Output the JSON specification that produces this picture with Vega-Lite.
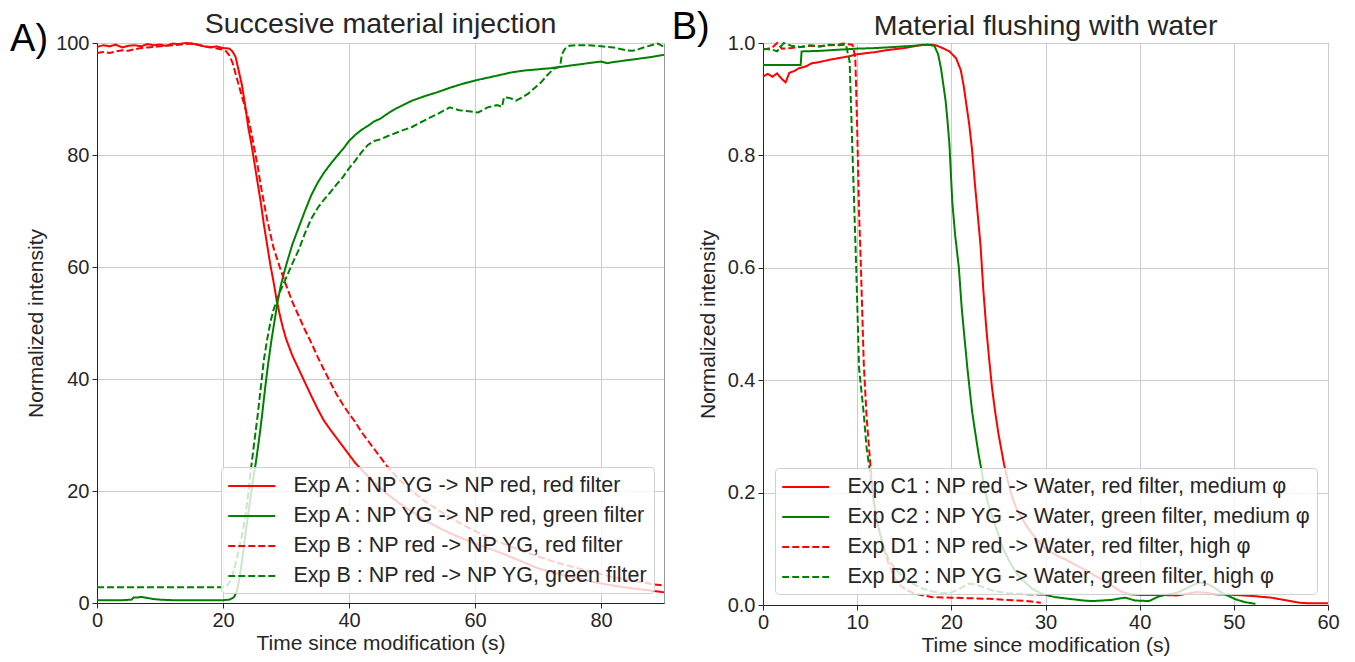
{
  "$schema": "https://vega.github.io/schema/vega-lite/v6.json",
  "background": "white",
  "padding": {"left": 9, "top": 8, "right": 5, "bottom": 0},
  "bounds": "flush",
  "spacing": 99,
  "resolve": {"scale": {"color": "independent", "strokeDash": "independent", "x": "independent", "y": "independent"}, "legend": {"color": "independent", "strokeDash": "independent"}},
  "config": {
    "font": "Liberation Sans",
    "view": {"stroke": "#999999", "strokeWidth": 1},
    "axis": {
      "labelFontSize": 20, "titleFontSize": 21, "titleFontWeight": "normal",
      "labelColor": "#262626", "titleColor": "#262626",
      "gridColor": "#cccccc", "gridWidth": 1,
      "domainColor": "#262626", "tickColor": "#262626", "tickSize": 5,
      "labelPadding": 3, "titlePadding": 4, "labelFlush": false, "labelOverlap": false
    },
    "axisX": {"labelPadding": 2, "titlePadding": 2},
    "axisY": {"titlePadding": 9},
    "legend": {
      "labelFontSize": 21.5, "labelColor": "#262626", "labelLimit": 1000,
      "symbolType": "M-1,0H3", "symbolSize": 552.25, "symbolStrokeWidth": 2,
      "labelOffset": 40.5, "padding": 6, "rowPadding": 6,
      "strokeColor": "#d0d0d0", "fillColor": "rgba(255,255,255,0.8)", "cornerRadius": 4
    }
  },
  "hconcat": [
    {
      "width": 567, "height": 560,
      "layer": [
        {
          "data": {"values": [
            {"k":"A1","t":0,"v":99.3},{"k":"A1","t":1,"v":99.6},{"k":"A1","t":2,"v":99.4},{"k":"A1","t":3,"v":99.7},{"k":"A1","t":4,"v":99.2},{"k":"A1","t":5,"v":99.5},{"k":"A1","t":6,"v":99.6},{"k":"A1","t":7,"v":99.4},{"k":"A1","t":8,"v":99.8},{"k":"A1","t":9,"v":99.6},{"k":"A1","t":10,"v":99.7},{"k":"A1","t":11,"v":99.5},{"k":"A1","t":12,"v":99.9},{"k":"A1","t":13,"v":99.8},{"k":"A1","t":14,"v":100},{"k":"A1","t":15,"v":99.9},{"k":"A1","t":16,"v":99.7},{"k":"A1","t":17,"v":99.4},{"k":"A1","t":18,"v":99.2},{"k":"A1","t":19,"v":99.4},{"k":"A1","t":20,"v":99.1},{"k":"A1","t":21,"v":99},{"k":"A1","t":21.5,"v":98.5},{"k":"A1","t":22,"v":97.5},{"k":"A1","t":22.5,"v":95},{"k":"A1","t":23,"v":92.5},{"k":"A1","t":23.5,"v":89},{"k":"A1","t":24,"v":85},{"k":"A1","t":24.5,"v":82},{"k":"A1","t":25,"v":78.5},{"k":"A1","t":25.5,"v":75},{"k":"A1","t":26,"v":71.5},{"k":"A1","t":26.5,"v":67.5},{"k":"A1","t":27,"v":64},{"k":"A1","t":27.5,"v":60.5},{"k":"A1","t":28,"v":57.5},{"k":"A1","t":28.5,"v":54.2},{"k":"A1","t":29,"v":51.5},{"k":"A1","t":29.5,"v":49.2},{"k":"A1","t":30,"v":47.2},{"k":"A1","t":31,"v":44.2},{"k":"A1","t":32,"v":41.8},{"k":"A1","t":33,"v":39.4},{"k":"A1","t":34,"v":37},{"k":"A1","t":35,"v":34.7},{"k":"A1","t":36,"v":32.6},{"k":"A1","t":37,"v":31},{"k":"A1","t":38,"v":29.5},{"k":"A1","t":39,"v":28},{"k":"A1","t":40,"v":26.5},{"k":"A1","t":41,"v":25},{"k":"A1","t":42,"v":23.8},{"k":"A1","t":44,"v":21.5},{"k":"A1","t":46,"v":19.5},{"k":"A1","t":48,"v":17.8},{"k":"A1","t":50,"v":16.3},{"k":"A1","t":52,"v":14.8},{"k":"A1","t":55,"v":13},{"k":"A1","t":58,"v":11.5},{"k":"A1","t":61,"v":10.2},{"k":"A1","t":64,"v":9},{"k":"A1","t":67,"v":7.6},{"k":"A1","t":70,"v":6.2},{"k":"A1","t":73,"v":5.2},{"k":"A1","t":76,"v":4.4},{"k":"A1","t":79,"v":3.7},{"k":"A1","t":82,"v":3.1},{"k":"A1","t":85,"v":2.6},{"k":"A1","t":88,"v":2.2},{"k":"A1","t":90,"v":1.9},
            {"k":"A2","t":0,"v":0.5},{"k":"A2","t":2,"v":0.5},{"k":"A2","t":4,"v":0.5},{"k":"A2","t":5.5,"v":0.6},{"k":"A2","t":5.8,"v":1.0},{"k":"A2","t":6.5,"v":1.0},{"k":"A2","t":7,"v":1.1},{"k":"A2","t":7.5,"v":1.0},{"k":"A2","t":8,"v":0.9},{"k":"A2","t":9,"v":0.7},{"k":"A2","t":10,"v":0.6},{"k":"A2","t":12,"v":0.5},{"k":"A2","t":15,"v":0.5},{"k":"A2","t":18,"v":0.5},{"k":"A2","t":20,"v":0.5},{"k":"A2","t":21,"v":0.6},{"k":"A2","t":21.7,"v":1.0},{"k":"A2","t":22.2,"v":2},{"k":"A2","t":22.7,"v":5},{"k":"A2","t":23.2,"v":9},{"k":"A2","t":23.7,"v":13.5},{"k":"A2","t":24.2,"v":17.5},{"k":"A2","t":24.7,"v":21.5},{"k":"A2","t":25.2,"v":25},{"k":"A2","t":25.7,"v":29},{"k":"A2","t":26.2,"v":33.5},{"k":"A2","t":26.7,"v":38.5},{"k":"A2","t":27.2,"v":43},{"k":"A2","t":27.7,"v":47},{"k":"A2","t":28.2,"v":50.5},{"k":"A2","t":28.7,"v":54},{"k":"A2","t":29.2,"v":56.8},{"k":"A2","t":29.7,"v":59},{"k":"A2","t":30.2,"v":61},{"k":"A2","t":31,"v":64},{"k":"A2","t":32,"v":67},{"k":"A2","t":33,"v":70},{"k":"A2","t":34,"v":72.8},{"k":"A2","t":35,"v":75},{"k":"A2","t":36,"v":76.8},{"k":"A2","t":37,"v":78.3},{"k":"A2","t":38,"v":79.7},{"k":"A2","t":39,"v":81},{"k":"A2","t":40,"v":82.5},{"k":"A2","t":41,"v":83.6},{"k":"A2","t":42,"v":84.5},{"k":"A2","t":43,"v":85.2},{"k":"A2","t":44,"v":86},{"k":"A2","t":45,"v":86.5},{"k":"A2","t":46,"v":87.3},{"k":"A2","t":47,"v":88},{"k":"A2","t":48,"v":88.6},{"k":"A2","t":50,"v":89.7},{"k":"A2","t":52,"v":90.5},{"k":"A2","t":54,"v":91.2},{"k":"A2","t":56,"v":92},{"k":"A2","t":58,"v":92.7},{"k":"A2","t":60,"v":93.3},{"k":"A2","t":62,"v":93.8},{"k":"A2","t":64,"v":94.3},{"k":"A2","t":66,"v":94.8},{"k":"A2","t":68,"v":95.1},{"k":"A2","t":70,"v":95.3},{"k":"A2","t":72,"v":95.5},{"k":"A2","t":74,"v":95.8},{"k":"A2","t":76,"v":96.1},{"k":"A2","t":78,"v":96.4},{"k":"A2","t":80,"v":96.7},{"k":"A2","t":81,"v":96.4},{"k":"A2","t":82,"v":96.6},{"k":"A2","t":84,"v":96.9},{"k":"A2","t":86,"v":97.2},{"k":"A2","t":88,"v":97.5},{"k":"A2","t":90,"v":97.9},
            {"k":"A3","t":0,"v":98.2},{"k":"A3","t":1,"v":98.4},{"k":"A3","t":2,"v":98.2},{"k":"A3","t":3,"v":98.5},{"k":"A3","t":4,"v":98.7},{"k":"A3","t":5,"v":98.6},{"k":"A3","t":6,"v":98.9},{"k":"A3","t":7,"v":99.1},{"k":"A3","t":8,"v":99.2},{"k":"A3","t":9,"v":99.3},{"k":"A3","t":10,"v":99.4},{"k":"A3","t":11,"v":99.5},{"k":"A3","t":12,"v":99.6},{"k":"A3","t":13,"v":99.7},{"k":"A3","t":14,"v":99.8},{"k":"A3","t":15,"v":99.9},{"k":"A3","t":16,"v":99.7},{"k":"A3","t":17,"v":99.4},{"k":"A3","t":18,"v":99.3},{"k":"A3","t":19,"v":99},{"k":"A3","t":20,"v":98.8},{"k":"A3","t":20.5,"v":98.5},{"k":"A3","t":21,"v":97.8},{"k":"A3","t":21.5,"v":96.5},{"k":"A3","t":22,"v":94.5},{"k":"A3","t":22.5,"v":92.5},{"k":"A3","t":23,"v":90.5},{"k":"A3","t":23.5,"v":88.5},{"k":"A3","t":24,"v":86.5},{"k":"A3","t":24.5,"v":84},{"k":"A3","t":25,"v":81},{"k":"A3","t":25.5,"v":78},{"k":"A3","t":26,"v":74.5},{"k":"A3","t":26.5,"v":71.5},{"k":"A3","t":27,"v":68.5},{"k":"A3","t":27.5,"v":66},{"k":"A3","t":28,"v":63.5},{"k":"A3","t":29,"v":60},{"k":"A3","t":30,"v":56.8},{"k":"A3","t":31,"v":53.8},{"k":"A3","t":32,"v":51.3},{"k":"A3","t":33,"v":48.8},{"k":"A3","t":34,"v":46.5},{"k":"A3","t":35,"v":44},{"k":"A3","t":36,"v":41.7},{"k":"A3","t":37,"v":39.5},{"k":"A3","t":38,"v":37.3},{"k":"A3","t":39,"v":35.5},{"k":"A3","t":40,"v":33.8},{"k":"A3","t":41,"v":32.3},{"k":"A3","t":42,"v":30.5},{"k":"A3","t":43,"v":29},{"k":"A3","t":44,"v":27.5},{"k":"A3","t":45,"v":26},{"k":"A3","t":46,"v":24.5},{"k":"A3","t":48,"v":22},{"k":"A3","t":50,"v":20},{"k":"A3","t":52,"v":18.2},{"k":"A3","t":55,"v":16},{"k":"A3","t":58,"v":14},{"k":"A3","t":61,"v":12.3},{"k":"A3","t":64,"v":10.8},{"k":"A3","t":67,"v":9.5},{"k":"A3","t":70,"v":8.3},{"k":"A3","t":73,"v":7.2},{"k":"A3","t":76,"v":6.3},{"k":"A3","t":79,"v":5.4},{"k":"A3","t":82,"v":4.6},{"k":"A3","t":85,"v":4},{"k":"A3","t":88,"v":3.4},{"k":"A3","t":90,"v":3.1},
            {"k":"A4","t":0,"v":2.8},{"k":"A4","t":10,"v":2.8},{"k":"A4","t":20,"v":2.8},{"k":"A4","t":20.5,"v":2.9},{"k":"A4","t":21,"v":3.6},{"k":"A4","t":21.5,"v":5},{"k":"A4","t":22,"v":7},{"k":"A4","t":22.5,"v":9.5},{"k":"A4","t":23,"v":12},{"k":"A4","t":23.5,"v":15},{"k":"A4","t":24,"v":19.5},{"k":"A4","t":24.5,"v":24.5},{"k":"A4","t":25,"v":29},{"k":"A4","t":25.5,"v":33.5},{"k":"A4","t":26,"v":38.5},{"k":"A4","t":26.5,"v":43.5},{"k":"A4","t":27,"v":47},{"k":"A4","t":27.5,"v":50},{"k":"A4","t":28,"v":52.3},{"k":"A4","t":29,"v":55.5},{"k":"A4","t":30,"v":58},{"k":"A4","t":31,"v":60.6},{"k":"A4","t":32,"v":63},{"k":"A4","t":33,"v":66},{"k":"A4","t":34,"v":68.6},{"k":"A4","t":35,"v":70.5},{"k":"A4","t":36,"v":72},{"k":"A4","t":37,"v":73.3},{"k":"A4","t":38,"v":74.7},{"k":"A4","t":39,"v":76},{"k":"A4","t":40,"v":77.6},{"k":"A4","t":41,"v":79},{"k":"A4","t":42,"v":80.5},{"k":"A4","t":43,"v":81.8},{"k":"A4","t":44,"v":82.5},{"k":"A4","t":45,"v":82.8},{"k":"A4","t":46,"v":83.3},{"k":"A4","t":48,"v":84.2},{"k":"A4","t":50,"v":85},{"k":"A4","t":52,"v":86.2},{"k":"A4","t":54,"v":87.3},{"k":"A4","t":56,"v":88.5},{"k":"A4","t":57.5,"v":88},{"k":"A4","t":59,"v":87.8},{"k":"A4","t":60.5,"v":87.6},{"k":"A4","t":62,"v":88.5},{"k":"A4","t":63.5,"v":88.9},{"k":"A4","t":64.3,"v":88.6},{"k":"A4","t":64.6,"v":90.3},{"k":"A4","t":65.5,"v":90.2},{"k":"A4","t":66.5,"v":89.7},{"k":"A4","t":67.5,"v":90.3},{"k":"A4","t":68.5,"v":91},{"k":"A4","t":69.5,"v":92},{"k":"A4","t":70.5,"v":93},{"k":"A4","t":71.5,"v":94.3},{"k":"A4","t":72.5,"v":95.4},{"k":"A4","t":73.5,"v":95.8},{"k":"A4","t":73.8,"v":98},{"k":"A4","t":74.3,"v":99},{"k":"A4","t":75,"v":99.5},{"k":"A4","t":76,"v":99.6},{"k":"A4","t":78,"v":99.6},{"k":"A4","t":80,"v":99.4},{"k":"A4","t":82,"v":99.2},{"k":"A4","t":84,"v":98.7},{"k":"A4","t":85,"v":98.6},{"k":"A4","t":86,"v":98.9},{"k":"A4","t":87,"v":99.3},{"k":"A4","t":88,"v":99.6},{"k":"A4","t":89,"v":99.9},{"k":"A4","t":90,"v":99.3}
          ]},
          "transform": [{"lookup": "k", "from": {"data": {"values": [
            {"k":"A1","name":"Exp A : NP YG -> NP red, red filter"},
            {"k":"A2","name":"Exp A : NP YG -> NP red, green filter"},
            {"k":"A3","name":"Exp B : NP red -> NP YG, red filter"},
            {"k":"A4","name":"Exp B : NP red -> NP YG, green filter"}
          ]}, "key": "k", "fields": ["name"]}}],
          "mark": {"type": "line", "strokeWidth": 2},
          "encoding": {
            "x": {"field": "t", "type": "quantitative", "scale": {"domain": [0, 90], "nice": false, "zero": false}, "axis": {"values": [0, 20, 40, 60, 80], "title": "Time since modification (s)"}},
            "y": {"field": "v", "type": "quantitative", "scale": {"domain": [0, 100], "nice": false}, "axis": {"values": [0, 20, 40, 60, 80, 100], "title": "Normalized intensity"}},
            "color": {"field": "name", "type": "nominal", "scale": {"domain": ["Exp A : NP YG -> NP red, red filter", "Exp A : NP YG -> NP red, green filter", "Exp B : NP red -> NP YG, red filter", "Exp B : NP red -> NP YG, green filter"], "range": ["#ff0000", "#008000", "#ff0000", "#008000"]}, "legend": {"title": null, "orient": "bottom-right", "offset": 10}},
            "strokeDash": {"field": "name", "type": "nominal", "scale": {"domain": ["Exp A : NP YG -> NP red, red filter", "Exp A : NP YG -> NP red, green filter", "Exp B : NP red -> NP YG, red filter", "Exp B : NP red -> NP YG, green filter"], "range": [[1, 0], [1, 0], [7, 3], [7, 3]]}, "legend": {"title": null, "orient": "bottom-right", "offset": 10}}
          }
        },
        {
          "data": {"values": [{"lbl": "A)"}]},
          "mark": {"type": "text", "fontSize": 38, "align": "left", "baseline": "alphabetic", "color": "#000000"},
          "encoding": {"text": {"field": "lbl"}, "x": {"datum": -13.8}, "y": {"datum": 98.57}}
        },
        {
          "data": {"values": [{"lbl": "Succesive material injection"}]},
          "mark": {"type": "text", "fontSize": 28.5, "align": "center", "baseline": "alphabetic", "color": "#262626"},
          "encoding": {"text": {"field": "lbl"}, "x": {"datum": 45}, "y": {"datum": 101.8}}
        }
      ]
    },
    {
      "width": 565, "height": 562,
      "layer": [
        {
          "data": {"values": [
            {"k":"C1","t":0,"v":0.94},{"k":"C1","t":0.5,"v":0.945},{"k":"C1","t":1,"v":0.94},{"k":"C1","t":1.5,"v":0.946},{"k":"C1","t":2,"v":0.936},{"k":"C1","t":2.4,"v":0.93},{"k":"C1","t":2.8,"v":0.947},{"k":"C1","t":3.3,"v":0.95},{"k":"C1","t":3.8,"v":0.955},{"k":"C1","t":4.5,"v":0.958},{"k":"C1","t":5.2,"v":0.964},{"k":"C1","t":6,"v":0.966},{"k":"C1","t":7,"v":0.97},{"k":"C1","t":8,"v":0.973},{"k":"C1","t":9,"v":0.976},{"k":"C1","t":10,"v":0.98},{"k":"C1","t":11,"v":0.982},{"k":"C1","t":12,"v":0.984},{"k":"C1","t":13,"v":0.987},{"k":"C1","t":14,"v":0.989},{"k":"C1","t":15,"v":0.991},{"k":"C1","t":16,"v":0.994},{"k":"C1","t":17,"v":0.997},{"k":"C1","t":18,"v":0.997},{"k":"C1","t":18.5,"v":0.995},{"k":"C1","t":19.2,"v":0.99},{"k":"C1","t":19.8,"v":0.985},{"k":"C1","t":20.5,"v":0.973},{"k":"C1","t":21,"v":0.952},{"k":"C1","t":21.3,"v":0.925},{"k":"C1","t":21.6,"v":0.89},{"k":"C1","t":21.9,"v":0.855},{"k":"C1","t":22.2,"v":0.81},{"k":"C1","t":22.5,"v":0.75},{"k":"C1","t":22.8,"v":0.695},{"k":"C1","t":23.1,"v":0.64},{"k":"C1","t":23.4,"v":0.56},{"k":"C1","t":23.7,"v":0.495},{"k":"C1","t":24,"v":0.44},{"k":"C1","t":24.3,"v":0.39},{"k":"C1","t":24.6,"v":0.35},{"k":"C1","t":25,"v":0.305},{"k":"C1","t":25.6,"v":0.25},{"k":"C1","t":26,"v":0.22},{"k":"C1","t":26.5,"v":0.19},{"k":"C1","t":27,"v":0.168},{"k":"C1","t":28,"v":0.14},{"k":"C1","t":29,"v":0.118},{"k":"C1","t":30,"v":0.1},{"k":"C1","t":31,"v":0.09},{"k":"C1","t":32,"v":0.082},{"k":"C1","t":33,"v":0.073},{"k":"C1","t":34,"v":0.064},{"k":"C1","t":35,"v":0.055},{"k":"C1","t":36,"v":0.045},{"k":"C1","t":37,"v":0.035},{"k":"C1","t":38,"v":0.024},{"k":"C1","t":39,"v":0.019},{"k":"C1","t":40,"v":0.018},{"k":"C1","t":42,"v":0.018},{"k":"C1","t":44,"v":0.017},{"k":"C1","t":45,"v":0.02},{"k":"C1","t":46,"v":0.023},{"k":"C1","t":47,"v":0.022},{"k":"C1","t":48,"v":0.019},{"k":"C1","t":50,"v":0.018},{"k":"C1","t":52,"v":0.016},{"k":"C1","t":54,"v":0.013},{"k":"C1","t":55,"v":0.01},{"k":"C1","t":56,"v":0.007},{"k":"C1","t":57,"v":0.004},{"k":"C1","t":58,"v":0.003},{"k":"C1","t":60,"v":0.003},
            {"k":"C2","t":0,"v":0.961},{"k":"C2","t":4,"v":0.961},{"k":"C2","t":4.1,"v":0.985},{"k":"C2","t":6,"v":0.986},{"k":"C2","t":8,"v":0.988},{"k":"C2","t":10,"v":0.99},{"k":"C2","t":12,"v":0.991},{"k":"C2","t":14,"v":0.993},{"k":"C2","t":16,"v":0.995},{"k":"C2","t":17.5,"v":0.997},{"k":"C2","t":18.2,"v":0.995},{"k":"C2","t":18.6,"v":0.98},{"k":"C2","t":18.9,"v":0.955},{"k":"C2","t":19.2,"v":0.92},{"k":"C2","t":19.4,"v":0.896},{"k":"C2","t":19.6,"v":0.86},{"k":"C2","t":19.8,"v":0.819},{"k":"C2","t":20.1,"v":0.718},{"k":"C2","t":20.4,"v":0.659},{"k":"C2","t":20.8,"v":0.6},{"k":"C2","t":21.1,"v":0.529},{"k":"C2","t":21.4,"v":0.475},{"k":"C2","t":21.7,"v":0.422},{"k":"C2","t":22.2,"v":0.345},{"k":"C2","t":22.6,"v":0.3},{"k":"C2","t":22.9,"v":0.268},{"k":"C2","t":23.2,"v":0.24},{"k":"C2","t":23.6,"v":0.2},{"k":"C2","t":24,"v":0.175},{"k":"C2","t":24.5,"v":0.15},{"k":"C2","t":25,"v":0.125},{"k":"C2","t":25.5,"v":0.1},{"k":"C2","t":26,"v":0.083},{"k":"C2","t":26.5,"v":0.068},{"k":"C2","t":27,"v":0.055},{"k":"C2","t":27.5,"v":0.045},{"k":"C2","t":28,"v":0.038},{"k":"C2","t":28.5,"v":0.03},{"k":"C2","t":29,"v":0.025},{"k":"C2","t":29.8,"v":0.019},{"k":"C2","t":31,"v":0.014},{"k":"C2","t":32,"v":0.012},{"k":"C2","t":33,"v":0.01},{"k":"C2","t":34,"v":0.008},{"k":"C2","t":35,"v":0.007},{"k":"C2","t":36,"v":0.008},{"k":"C2","t":37,"v":0.009},{"k":"C2","t":38,"v":0.012},{"k":"C2","t":38.5,"v":0.013},{"k":"C2","t":39.5,"v":0.008},{"k":"C2","t":41,"v":0.007},{"k":"C2","t":42,"v":0.015},{"k":"C2","t":43,"v":0.019},{"k":"C2","t":44,"v":0.022},{"k":"C2","t":45,"v":0.03},{"k":"C2","t":46,"v":0.038},{"k":"C2","t":46.6,"v":0.04},{"k":"C2","t":47.3,"v":0.037},{"k":"C2","t":48,"v":0.03},{"k":"C2","t":48.7,"v":0.022},{"k":"C2","t":49.3,"v":0.017},{"k":"C2","t":50.2,"v":0.01},{"k":"C2","t":51.2,"v":0.005},{"k":"C2","t":52.3,"v":0.002},
            {"k":"D1","t":0,"v":0.988},{"k":"D1","t":0.5,"v":0.99},{"k":"D1","t":1,"v":0.992},{"k":"D1","t":1.5,"v":1.0},{"k":"D1","t":2,"v":0.99},{"k":"D1","t":3,"v":0.991},{"k":"D1","t":4,"v":0.993},{"k":"D1","t":5,"v":0.995},{"k":"D1","t":6,"v":0.994},{"k":"D1","t":7,"v":0.996},{"k":"D1","t":8,"v":0.997},{"k":"D1","t":8.5,"v":0.999},{"k":"D1","t":9,"v":0.998},{"k":"D1","t":9.5,"v":0.997},{"k":"D1","t":9.8,"v":0.975},{"k":"D1","t":10,"v":0.85},{"k":"D1","t":10.2,"v":0.7},{"k":"D1","t":10.4,"v":0.6},{"k":"D1","t":10.7,"v":0.43},{"k":"D1","t":11,"v":0.335},{"k":"D1","t":11.4,"v":0.25},{"k":"D1","t":11.8,"v":0.18},{"k":"D1","t":12.3,"v":0.135},{"k":"D1","t":12.8,"v":0.1},{"k":"D1","t":13.3,"v":0.075},{"k":"D1","t":13.9,"v":0.05},{"k":"D1","t":14.5,"v":0.036},{"k":"D1","t":15.2,"v":0.027},{"k":"D1","t":16,"v":0.021},{"k":"D1","t":17,"v":0.017},{"k":"D1","t":18,"v":0.014},{"k":"D1","t":20,"v":0.013},{"k":"D1","t":22,"v":0.012},{"k":"D1","t":24,"v":0.011},{"k":"D1","t":26,"v":0.009},{"k":"D1","t":28,"v":0.007},{"k":"D1","t":29.5,"v":0.004},
            {"k":"D2","t":0,"v":0.99},{"k":"D2","t":1,"v":0.988},{"k":"D2","t":1.5,"v":0.985},{"k":"D2","t":2.2,"v":1.0},{"k":"D2","t":3,"v":0.995},{"k":"D2","t":4,"v":0.993},{"k":"D2","t":5,"v":0.996},{"k":"D2","t":6,"v":0.994},{"k":"D2","t":7,"v":0.997},{"k":"D2","t":8,"v":0.996},{"k":"D2","t":8.8,"v":0.997},{"k":"D2","t":9.2,"v":0.967},{"k":"D2","t":9.5,"v":0.807},{"k":"D2","t":9.9,"v":0.6},{"k":"D2","t":10.2,"v":0.422},{"k":"D2","t":10.7,"v":0.34},{"k":"D2","t":11,"v":0.28},{"k":"D2","t":11.4,"v":0.232},{"k":"D2","t":11.8,"v":0.18},{"k":"D2","t":12.3,"v":0.135},{"k":"D2","t":12.8,"v":0.105},{"k":"D2","t":13.3,"v":0.082},{"k":"D2","t":14,"v":0.065},{"k":"D2","t":15,"v":0.048},{"k":"D2","t":16,"v":0.037},{"k":"D2","t":17,"v":0.029},{"k":"D2","t":18,"v":0.024},{"k":"D2","t":19,"v":0.021},{"k":"D2","t":20,"v":0.022},{"k":"D2","t":21,"v":0.03},{"k":"D2","t":21.8,"v":0.038},{"k":"D2","t":22.5,"v":0.037},{"k":"D2","t":23.5,"v":0.031},{"k":"D2","t":24.5,"v":0.025},{"k":"D2","t":26,"v":0.021},{"k":"D2","t":28,"v":0.019},{"k":"D2","t":30,"v":0.018}
          ]},
          "transform": [{"lookup": "k", "from": {"data": {"values": [
            {"k":"C1","name":"Exp C1 : NP red -> Water, red filter, medium φ"},
            {"k":"C2","name":"Exp C2 : NP YG -> Water, green filter, medium φ"},
            {"k":"D1","name":"Exp D1 : NP red -> Water, red filter, high φ"},
            {"k":"D2","name":"Exp D2 : NP YG -> Water, green filter, high φ"}
          ]}, "key": "k", "fields": ["name"]}}],
          "mark": {"type": "line", "strokeWidth": 2},
          "encoding": {
            "x": {"field": "t", "type": "quantitative", "scale": {"domain": [0, 60], "nice": false, "zero": false}, "axis": {"values": [0, 10, 20, 30, 40, 50, 60], "title": "Time since modification (s)"}},
            "y": {"field": "v", "type": "quantitative", "scale": {"domain": [0, 1], "nice": false}, "axis": {"values": [0, 0.2, 0.4, 0.6, 0.8, 1.0], "format": ".1f", "title": "Normalized intensity"}},
            "color": {"field": "name", "type": "nominal", "scale": {"domain": ["Exp C1 : NP red -> Water, red filter, medium φ", "Exp C2 : NP YG -> Water, green filter, medium φ", "Exp D1 : NP red -> Water, red filter, high φ", "Exp D2 : NP YG -> Water, green filter, high φ"], "range": ["#ff0000", "#008000", "#ff0000", "#008000"]}, "legend": {"title": null, "orient": "bottom-right", "offset": 11}},
            "strokeDash": {"field": "name", "type": "nominal", "scale": {"domain": ["Exp C1 : NP red -> Water, red filter, medium φ", "Exp C2 : NP YG -> Water, green filter, medium φ", "Exp D1 : NP red -> Water, red filter, high φ", "Exp D2 : NP YG -> Water, green filter, high φ"], "range": [[1, 0], [1, 0], [7, 3], [7, 3]]}, "legend": {"title": null, "orient": "bottom-right", "offset": 11}}
          }
        },
        {
          "data": {"values": [{"lbl": "B)"}]},
          "mark": {"type": "text", "fontSize": 38, "align": "left", "baseline": "alphabetic", "color": "#000000"},
          "encoding": {"text": {"field": "lbl"}, "x": {"datum": -9.7}, "y": {"datum": 1.007}}
        },
        {
          "data": {"values": [{"lbl": "Material flushing with water"}]},
          "mark": {"type": "text", "fontSize": 28.5, "align": "center", "baseline": "alphabetic", "color": "#262626"},
          "encoding": {"text": {"field": "lbl"}, "x": {"datum": 30}, "y": {"datum": 1.0142}}
        }
      ]
    }
  ]
}
